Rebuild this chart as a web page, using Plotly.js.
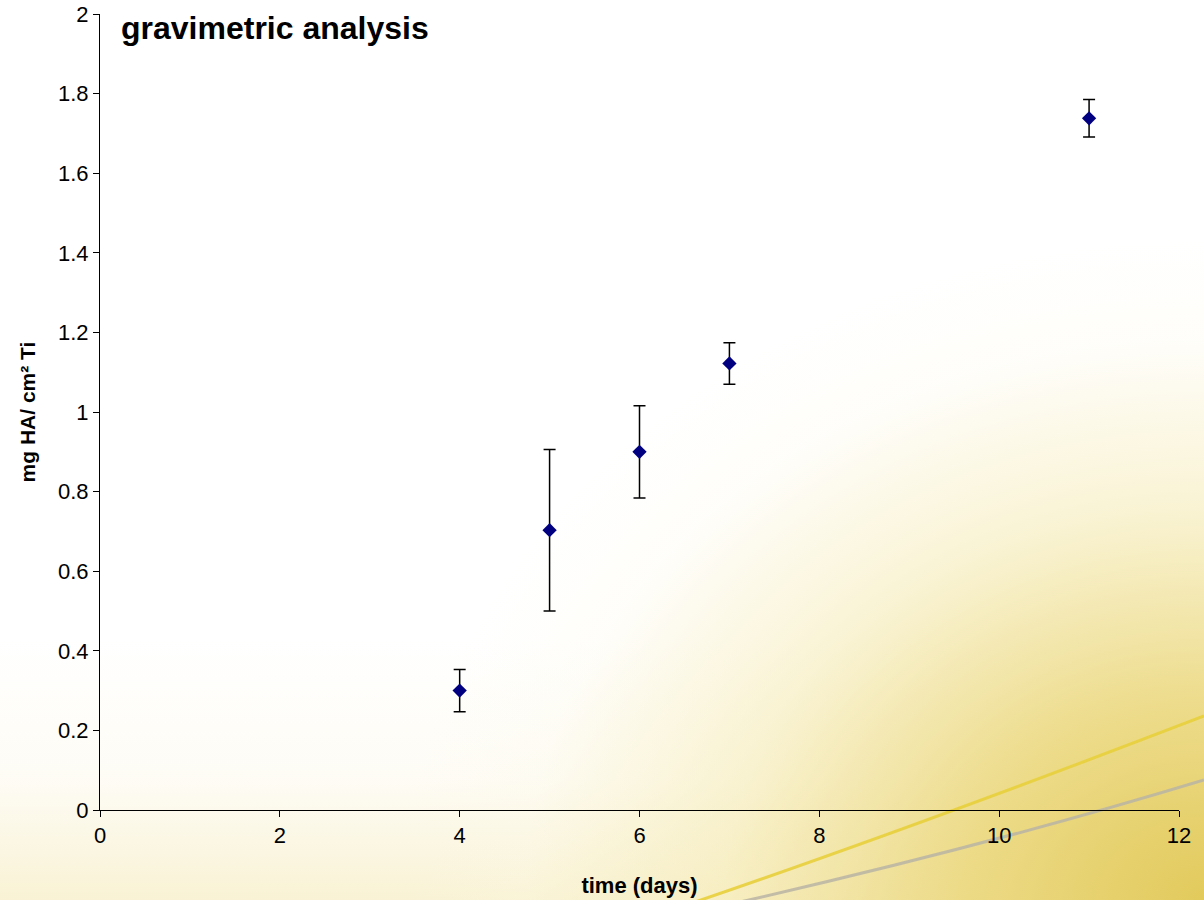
<!DOCTYPE html>
<html>
<head>
<meta charset="utf-8">
<script src="https://cdn.plot.ly/plotly-3.0.1.min.js"></script>
<style>
  html, body { margin: 0; padding: 0; }
  body { width: 1204px; height: 900px; overflow: hidden; position: relative;
    background:
      radial-gradient(ellipse 800px 660px at 1204px 900px, rgba(226,202,92,1) 0%, rgba(234,214,120,0.85) 30%, rgba(245,234,178,0.55) 60%, rgba(252,248,228,0.2) 85%, rgba(255,255,255,0) 100%),
      linear-gradient(to top, rgba(248,240,205,0.85) 0px, rgba(252,248,232,0.45) 120px, rgba(255,255,255,0) 260px),
      #ffffff;
  }
  #bg { position: absolute; left: 0; top: 0; }
  #chart { position: absolute; left: 0; top: 0; width: 1204px; height: 900px; }
</style>
</head>
<body>
<svg id="bg" width="1204" height="900" xmlns="http://www.w3.org/2000/svg">
  <path d="M 695 902 Q 920 825 1204 716" stroke="#e8cf3c" stroke-width="3" fill="none" opacity="0.9"/>
  <path d="M 740 902 Q 990 845 1204 780" stroke="#b8b4a4" stroke-width="3" fill="none" opacity="0.85"/>
</svg>
<div id="chart"></div>
<script>
const days = [4, 5, 6, 7, 11];
const massHA = [0.30, 0.703, 0.90, 1.122, 1.738];
const errHA = [0.053, 0.203, 0.116, 0.052, 0.047];
const xTicks = [0, 2, 4, 6, 8, 10, 12];
const yTicks = [0, 0.2, 0.4, 0.6, 0.8, 1, 1.2, 1.4, 1.6, 1.8, 2];

const trace = {
  x: days,
  y: massHA,
  type: 'scatter',
  mode: 'markers',
  marker: { symbol: 'diamond', size: 11, color: '#000080' },
  error_y: { type: 'data', array: errHA, visible: true, color: '#000000', thickness: 1.5, width: 6 },
  hoverinfo: 'x+y'
};

const layout = {
  width: 1204,
  height: 900,
  margin: { l: 100, r: 25, t: 14, b: 90 },
  paper_bgcolor: 'rgba(0,0,0,0)',
  plot_bgcolor: 'rgba(0,0,0,0)',
  showlegend: false,
  font: { family: 'Arial, Liberation Sans, sans-serif', color: '#000000' },
  title: {
    text: '<b>gravimetric analysis</b>',
    font: { size: 32, family: 'Arial, Liberation Sans, sans-serif', color: '#000000' },
    xref: 'container', yref: 'container',
    x: 121 / 1204, xanchor: 'left',
    y: 1 - 28 / 900, yanchor: 'middle'
  },
  xaxis: {
    range: [0, 12],
    tickvals: xTicks,
    ticktext: xTicks.map(String),
    ticks: 'outside', ticklen: 6, tickwidth: 1, tickcolor: '#000',
    showline: true, linecolor: '#000', linewidth: 1,
    showgrid: false, zeroline: false,
    tickfont: { size: 22 },
    title: { text: '<b>time (days)</b>', font: { size: 22 }, standoff: 30 }
  },
  yaxis: {
    range: [0, 2],
    tickvals: yTicks,
    ticktext: yTicks.map(String),
    ticks: 'outside', ticklen: 6, tickwidth: 1, tickcolor: '#000',
    showline: true, linecolor: '#000', linewidth: 1,
    showgrid: false, zeroline: false,
    tickfont: { size: 22 },
    title: { text: '<b>mg HA/ cm² Ti</b>', font: { size: 21 }, standoff: 16 }
  }
};

Plotly.newPlot('chart', [trace], layout, { displayModeBar: false, staticPlot: true });
</script>
</body>
</html>
